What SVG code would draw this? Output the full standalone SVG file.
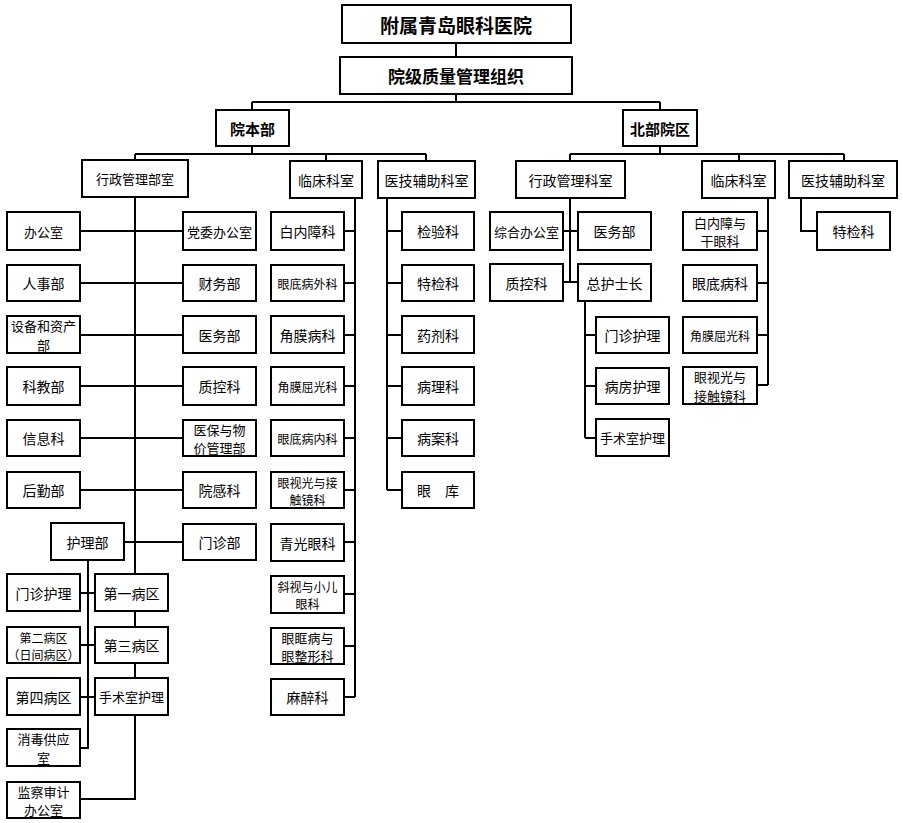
<svg xmlns="http://www.w3.org/2000/svg" width="903" height="823" viewBox="0 0 903 823">
<style>
.box{fill:#fff;stroke:#000;stroke-width:2}
.ln{stroke:#000;stroke-width:2;fill:none}
text{font-family:"Noto Sans CJK SC","Noto Sans",sans-serif;font-size:14px;fill:#000;text-anchor:middle;dominant-baseline:central}
.b{font-weight:bold}
.s13{font-size:13px}
.s12{font-size:12px}
</style>
<rect width="903" height="823" fill="#fff"/>
<g id="connectors" class="ln">
<path d="M456,43V57M456,94V102M252,102H660M252,102V110M660,102V110"/>
<path d="M252,146V154M135,154H426M135,154V160M326,154V161M426,154V161"/>
<path d="M135,197V574M135,611V627M135,663V678M135,715V799H80"/>
<path d="M80,231H183M80,283H183M80,335H183M80,386H183M80,438H183M80,490H183M124,542H183"/>
<path d="M88,560V748H80M80,593H95M80,645H95M80,697H95"/>
<path d="M355,198V697M344,231H355M344,283H355M344,335H355M344,386H355M344,438H355M344,490H355M344,542H355M344,594H355M344,646H355M344,697H355"/>
<path d="M387,198V490M387,231H402M387,283H402M387,335H402M387,386H402M387,438H402M387,490H402"/>
<path d="M660,146V154M570,154H844M570,154V161M739,154V161M844,154V161"/>
<path d="M570,198V282M563,231H578M563,282H578"/>
<path d="M585,301V438M585,335H596M585,386H596M585,438H596"/>
<path d="M768,198V385M757,231H768M757,283H768M757,335H768M757,385H768"/>
<path d="M801,198V231H817"/>
</g>
<g id="n-top"><rect class="box" x="342" y="5" width="229" height="38"/><text class="b" x="456" y="24" style="font-size:19px">附属青岛眼科医院</text></g>
<g id="n-quality"><rect class="box" x="340" y="57" width="232" height="37"/><text class="b" x="456" y="75.5" style="font-size:17px">院级质量管理组织</text></g>
<g id="n-main"><rect class="box" x="216" y="110" width="73" height="36"/><text class="b" x="252.5" y="128" style="font-size:15px">院本部</text></g>
<g id="n-north"><rect class="box" x="623" y="110" width="74" height="36"/><text class="b" x="660" y="128" style="font-size:15px">北部院区</text></g>

<g id="n-admin"><rect class="box" x="82" y="160" width="106" height="37"/><text class="s13" x="135" y="178.5">行政管理部室</text></g>
<g id="n-clinic"><rect class="box" x="290" y="161" width="72" height="37"/><text x="326" y="179.5">临床科室</text></g>
<g id="n-aux"><rect class="box" x="378" y="161" width="97" height="37"/><text x="426.5" y="179.5">医技辅助科室</text></g>

<g id="n-bgs"><rect class="box" x="7" y="212" width="73" height="38"/><text class="s13" x="43.5" y="231">办公室</text></g>
<g id="n-rsb"><rect class="box" x="7" y="265" width="73" height="36"/><text x="43.5" y="283">人事部</text></g>
<g id="n-sbzc"><rect class="box" x="7" y="316" width="73" height="37"/><text class="s13" x="43.5" y="325.5">设备和资产<tspan x="43.5" dy="18">部</tspan></text></g>
<g id="n-kjb"><rect class="box" x="7" y="367" width="73" height="38"/><text x="43.5" y="386">科教部</text></g>
<g id="n-xxk"><rect class="box" x="7" y="420" width="73" height="36"/><text x="43.5" y="438">信息科</text></g>
<g id="n-hqb"><rect class="box" x="7" y="472" width="73" height="36"/><text x="43.5" y="490">后勤部</text></g>

<g id="n-dwbgs"><rect class="box" x="183" y="212" width="73" height="38"/><text class="s13" x="219.5" y="231">党委办公室</text></g>
<g id="n-cwb"><rect class="box" x="183" y="265" width="73" height="36"/><text x="219.5" y="283">财务部</text></g>
<g id="n-ywb"><rect class="box" x="183" y="316" width="73" height="37"/><text x="219.5" y="335">医务部</text></g>
<g id="n-zkk"><rect class="box" x="183" y="367" width="73" height="38"/><text x="219.5" y="386">质控科</text></g>
<g id="n-ybwj"><rect class="box" x="183" y="420" width="73" height="36"/><text class="s13" x="219.5" y="429">医保与物<tspan x="219.5" dy="18">价管理部</tspan></text></g>
<g id="n-ygk"><rect class="box" x="183" y="472" width="73" height="36"/><text x="219.5" y="490">院感科</text></g>
<g id="n-mzb"><rect class="box" x="183" y="524" width="73" height="36"/><text x="219.5" y="542">门诊部</text></g>

<g id="n-hlb"><rect class="box" x="51" y="523" width="73" height="37"/><text x="87.5" y="541.5">护理部</text></g>
<g id="n-mzhl"><rect class="box" x="7" y="574" width="73" height="37"/><text x="43.5" y="592.5">门诊护理</text></g>
<g id="n-bq2"><rect class="box" x="7" y="627" width="73" height="36"/><text class="s12" x="43.5" y="637">第二病区<tspan x="43.5" dy="16.5">（日间病区）</tspan></text></g>
<g id="n-bq4"><rect class="box" x="7" y="678" width="73" height="37"/><text x="43.5" y="696.5">第四病区</text></g>
<g id="n-xdgy"><rect class="box" x="7" y="729" width="73" height="37"/><text class="s13" x="43.5" y="738.5">消毒供应<tspan x="43.5" dy="18">室</tspan></text></g>
<g id="n-jcsj"><rect class="box" x="7" y="782" width="73" height="36"/><text class="s13" x="43.5" y="791">监察审计<tspan x="43.5" dy="18">办公室</tspan></text></g>
<g id="n-bq1"><rect class="box" x="95" y="574" width="73" height="37"/><text x="131.5" y="592.5">第一病区</text></g>
<g id="n-bq3"><rect class="box" x="95" y="627" width="73" height="36"/><text x="131.5" y="645">第三病区</text></g>
<g id="n-sssh"><rect class="box" x="95" y="678" width="73" height="37"/><text class="s13" x="131.5" y="696.5">手术室护理</text></g>

<g id="n-bnz"><rect class="box" x="271" y="212" width="73" height="38"/><text x="307.5" y="231">白内障科</text></g>
<g id="n-ddwk"><rect class="box" x="271" y="265" width="73" height="36"/><text class="s12" x="307.5" y="283">眼底病外科</text></g>
<g id="n-jmbk"><rect class="box" x="271" y="316" width="73" height="37"/><text x="307.5" y="335">角膜病科</text></g>
<g id="n-jmqg"><rect class="box" x="271" y="367" width="73" height="38"/><text class="s12" x="307.5" y="386">角膜屈光科</text></g>
<g id="n-ddnk"><rect class="box" x="271" y="420" width="73" height="36"/><text class="s12" x="307.5" y="438">眼底病内科</text></g>
<g id="n-ysg"><rect class="box" x="271" y="472" width="73" height="36"/><text class="s12" x="307.5" y="482">眼视光与接<tspan x="307.5" dy="16.5">触镜科</tspan></text></g>
<g id="n-qgy"><rect class="box" x="271" y="524" width="73" height="37"/><text x="307.5" y="542.5">青光眼科</text></g>
<g id="n-xsxe"><rect class="box" x="271" y="576" width="73" height="37"/><text class="s12" x="307.5" y="586">斜视与小儿<tspan x="307.5" dy="16.5">眼科</tspan></text></g>
<g id="n-ykb"><rect class="box" x="271" y="628" width="73" height="36"/><text class="s13" x="307.5" y="637">眼眶病与<tspan x="307.5" dy="18">眼整形科</tspan></text></g>
<g id="n-mzk"><rect class="box" x="271" y="679" width="73" height="36"/><text x="307.5" y="697">麻醉科</text></g>

<g id="n-jyk"><rect class="box" x="402" y="212" width="72" height="38"/><text x="438" y="231">检验科</text></g>
<g id="n-tjk"><rect class="box" x="402" y="265" width="72" height="36"/><text x="438" y="283">特检科</text></g>
<g id="n-yjk"><rect class="box" x="402" y="316" width="72" height="37"/><text x="438" y="335">药剂科</text></g>
<g id="n-blk"><rect class="box" x="402" y="367" width="72" height="38"/><text x="438" y="386">病理科</text></g>
<g id="n-bak"><rect class="box" x="402" y="420" width="72" height="36"/><text x="438" y="438">病案科</text></g>
<g id="n-yk"><rect class="box" x="402" y="472" width="72" height="36"/><text x="438" y="490">眼　库</text></g>

<g id="n-nadmin"><rect class="box" x="516" y="161" width="109" height="37"/><text x="570.5" y="179.5">行政管理科室</text></g>
<g id="n-nclinic"><rect class="box" x="702" y="161" width="73" height="37"/><text x="738.5" y="179.5">临床科室</text></g>
<g id="n-naux"><rect class="box" x="789" y="161" width="108" height="37"/><text x="843" y="179.5">医技辅助科室</text></g>

<g id="n-zhbgs"><rect class="box" x="490" y="212" width="73" height="38"/><text class="s13" x="526.5" y="231">综合办公室</text></g>
<g id="n-nywb"><rect class="box" x="578" y="212" width="73" height="38"/><text x="614.5" y="231">医务部</text></g>
<g id="n-nzkk"><rect class="box" x="490" y="264" width="73" height="37"/><text x="526.5" y="282.5">质控科</text></g>
<g id="n-zhsz"><rect class="box" x="578" y="264" width="73" height="37"/><text x="614.5" y="282.5">总护士长</text></g>
<g id="n-nmzhl"><rect class="box" x="596" y="317" width="73" height="36"/><text x="632.5" y="335">门诊护理</text></g>
<g id="n-bfhl"><rect class="box" x="596" y="368" width="73" height="36"/><text x="632.5" y="386">病房护理</text></g>
<g id="n-nsssh"><rect class="box" x="596" y="419" width="73" height="37"/><text class="s13" x="632.5" y="437.5">手术室护理</text></g>

<g id="n-bnzgy"><rect class="box" x="683" y="212" width="74" height="38"/><text class="s13" x="720" y="222">白内障与<tspan x="720" dy="18">干眼科</tspan></text></g>
<g id="n-ydbk"><rect class="box" x="683" y="265" width="74" height="36"/><text x="720" y="283">眼底病科</text></g>
<g id="n-njmqg"><rect class="box" x="683" y="317" width="74" height="36"/><text class="s12" x="720" y="335">角膜屈光科</text></g>
<g id="n-nysg"><rect class="box" x="683" y="367" width="74" height="37"/><text class="s13" x="720" y="376.5">眼视光与<tspan x="720" dy="18">接触镜科</tspan></text></g>

<g id="n-ntjk"><rect class="box" x="817" y="212" width="73" height="38"/><text x="853.5" y="231">特检科</text></g>
</svg>
